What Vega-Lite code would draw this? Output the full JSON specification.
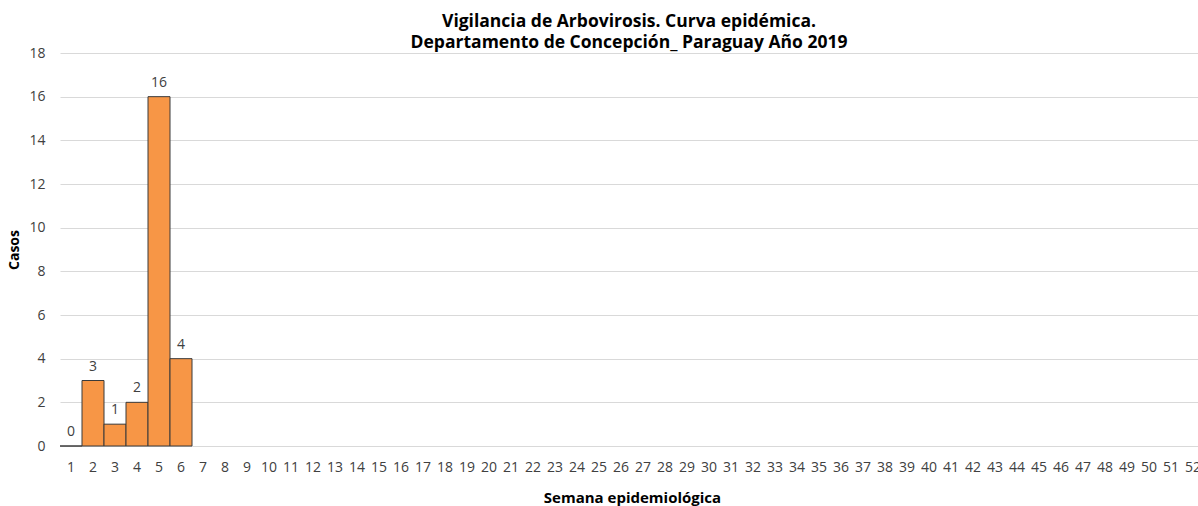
{
  "$schema": "https://vega.github.io/schema/vega-lite/v6.json",
  "width": 1138,
  "height": 393,
  "autosize": {"type": "none"},
  "padding": {"left": 60, "top": 53, "right": 0, "bottom": 60},
  "background": "white",
  "config": {
    "font": "Open Sans",
    "view": {"stroke": null},
    "axis": {"labelColor": "#404040", "labelFontSize": 14, "titleColor": "#000000", "titleFontWeight": "bold"}
  },
  "title": {
    "text": ["Vigilancia de Arbovirosis. Curva epidémica.", "Departamento de Concepción_ Paraguay Año 2019"],
    "fontSize": 17.5,
    "fontWeight": "bold",
    "color": "#000000",
    "anchor": "middle",
    "lineHeight": 21,
    "offset": -5
  },
  "data": {
    "values": [
      {"semana": 1, "casos": 0}, {"semana": 2, "casos": 3}, {"semana": 3, "casos": 1},
      {"semana": 4, "casos": 2}, {"semana": 5, "casos": 16}, {"semana": 6, "casos": 4}
    ]
  },
  "encoding": {
    "x": {
      "field": "semana",
      "type": "ordinal",
      "scale": {
        "domain": [1,2,3,4,5,6,7,8,9,10,11,12,13,14,15,16,17,18,19,20,21,22,23,24,25,26,27,28,29,30,31,32,33,34,35,36,37,38,39,40,41,42,43,44,45,46,47,48,49,50,51,52],
        "range": [0, 1144],
        "paddingInner": 0,
        "paddingOuter": 0
      },
      "axis": {
        "title": "Semana epidemiológica",
        "titleFontSize": 15,
        "labelAngle": 0,
        "domain": false,
        "ticks": false,
        "grid": false,
        "labelPadding": 14,
        "titlePadding": 16
      }
    },
    "y": {
      "field": "casos",
      "type": "quantitative",
      "scale": {"domain": [0, 18], "nice": false},
      "axis": {
        "title": "Casos",
        "titleFontSize": 14,
        "values": [0, 2, 4, 6, 8, 10, 12, 14, 16, 18],
        "labelOverlap": false,
        "domain": false,
        "ticks": false,
        "grid": true,
        "gridColor": "#d9d9d9",
        "gridWidth": 1,
        "labelPadding": 15,
        "titlePadding": 7
      }
    }
  },
  "layer": [
    {
      "mark": {"type": "bar", "fill": "#F79646", "stroke": "#3a3a3a", "strokeWidth": 1}
    },
    {
      "mark": {"type": "text", "baseline": "middle", "dy": -14, "fontSize": 14, "color": "#404040"},
      "encoding": {"text": {"field": "casos", "type": "quantitative"}}
    }
  ]
}
